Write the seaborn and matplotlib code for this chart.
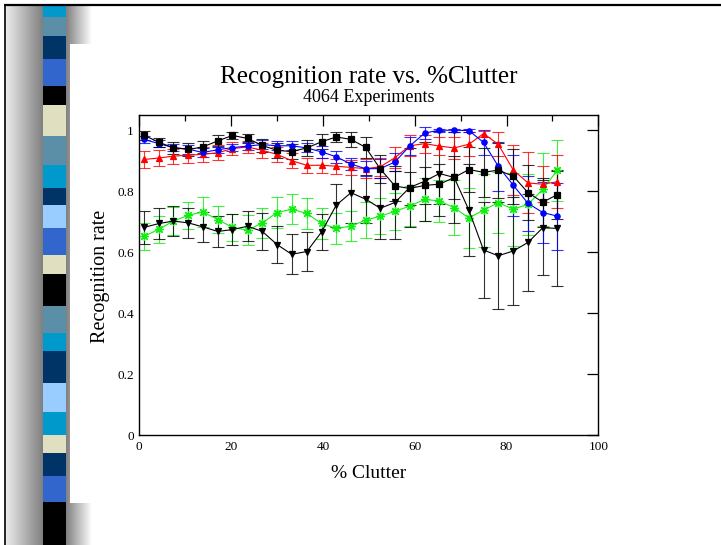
import numpy as np
import pandas as pd
import matplotlib
matplotlib.use("Agg")
import matplotlib.pyplot as plt
import seaborn as sns
from matplotlib.patches import Rectangle
from matplotlib.ticker import MultipleLocator, FuncFormatter

# ---------------- data ----------------
clutter = [1.0, 4.3, 7.4, 10.7, 13.8, 17.1, 20.3, 23.6, 26.8, 30.0, 33.2, 36.5,
           39.7, 42.9, 46.1, 49.3, 52.5, 55.7, 58.9, 62.2, 65.4, 68.6, 71.8,
           75.0, 78.2, 81.5, 84.7, 87.9, 91.1]

sq_y = [0.984, 0.960, 0.943, 0.937, 0.945, 0.965, 0.983, 0.973, 0.950, 0.934,
        0.930, 0.942, 0.962, 0.978, 0.970, 0.944, 0.873, 0.817, 0.809, 0.819,
        0.823, 0.845, 0.871, 0.862, 0.869, 0.849, 0.795, 0.764, 0.789]
sq_e = [0.015, 0.015, 0.02, 0.02, 0.02, 0.02, 0.012, 0.015, 0.02, 0.025,
        0.025, 0.025, 0.025, 0.015, 0.025, 0.035, 0.045, 0.05, 0.055, 0.06,
        0.065, 0.07, 0.075, 0.08, 0.09, 0.09, 0.09, 0.08, 0.08]

blue_y = [0.970, 0.956, 0.943, 0.938, 0.927, 0.936, 0.943, 0.948, 0.953,
          0.949, 0.949, 0.942, 0.929, 0.913, 0.889, 0.874, 0.874, 0.896,
          0.948, 0.991, 1.000, 1.000, 0.999, 0.960, 0.882, 0.819, 0.760,
          0.730, 0.718]
blue_e = [0.012, 0.012, 0.012, 0.015, 0.015, 0.012, 0.012, 0.012, 0.015,
          0.015, 0.015, 0.015, 0.02, 0.02, 0.02, 0.025, 0.03, 0.03, 0.03,
          0.02, 0.005, 0.005, 0.005, 0.04, 0.08, 0.1, 0.09, 0.1, 0.11]

red_y = [0.904, 0.909, 0.915, 0.918, 0.921, 0.926, 0.940, 0.945, 0.934,
         0.921, 0.900, 0.885, 0.885, 0.882, 0.878, 0.874, 0.880, 0.910,
         0.949, 0.956, 0.948, 0.942, 0.954, 0.989, 0.954, 0.869, 0.827,
         0.823, 0.831]
red_e = [0.028, 0.025, 0.025, 0.025, 0.025, 0.025, 0.02, 0.02, 0.025, 0.025,
         0.025, 0.025, 0.025, 0.025, 0.025, 0.03, 0.03, 0.035, 0.035, 0.03,
         0.03, 0.035, 0.04, 0.01, 0.04, 0.083, 0.1, 0.06, 0.087]

tri_y = [0.681, 0.694, 0.702, 0.696, 0.683, 0.668, 0.674, 0.685, 0.668,
         0.625, 0.593, 0.602, 0.666, 0.754, 0.795, 0.774, 0.744, 0.763,
         0.812, 0.833, 0.858, 0.845, 0.738, 0.607, 0.588, 0.604, 0.632,
         0.680, 0.678]
tri_e = [0.055, 0.05, 0.05, 0.05, 0.05, 0.05, 0.05, 0.05, 0.06, 0.06, 0.065,
         0.065, 0.06, 0.07, 0.1, 0.08, 0.1, 0.12, 0.13, 0.13, 0.14, 0.15,
         0.15, 0.157, 0.175, 0.176, 0.158, 0.156, 0.188]

grn_y = [0.652, 0.675, 0.702, 0.721, 0.732, 0.707, 0.681, 0.672, 0.696,
         0.730, 0.741, 0.727, 0.694, 0.678, 0.685, 0.705, 0.718, 0.734,
         0.751, 0.773, 0.768, 0.746, 0.712, 0.738, 0.762, 0.741, 0.757,
         0.806, 0.869]
grn_e = [0.045, 0.045, 0.045, 0.045, 0.05, 0.045, 0.045, 0.05, 0.05, 0.05,
         0.05, 0.05, 0.05, 0.05, 0.05, 0.06, 0.06, 0.06, 0.065, 0.07, 0.07,
         0.09, 0.1, 0.12, 0.1, 0.12, 0.1, 0.12, 0.1]

x_ticks = [0, 20, 40, 60, 80, 100]
y_ticks = [0, 0.2, 0.4, 0.6, 0.8, 1.0]

# ---------------- figure ----------------
sns.set_theme(style="white")
plt.rcParams["font.family"] = ["Liberation Serif", "DejaVu Serif"]

W, H = 721, 545
fig = plt.figure(figsize=(W / 100, H / 100), dpi=100)
fig.patch.set_facecolor("white")

# slide decoration (background axes in pixel coordinates)
bg = fig.add_axes([0, 0, 1, 1], zorder=-5)
bg.set_xlim(0, W)
bg.set_ylim(H, 0)
bg.axis("off")

g1 = np.linspace(0.93, 0.5, 128)[None, :]
bg.imshow(g1, cmap="gray", vmin=0, vmax=1, extent=[5, 43, H, 5], aspect="auto", zorder=1)
g2 = np.linspace(0.5, 1.0, 128)[None, :]
bg.imshow(g2, cmap="gray", vmin=0, vmax=1, extent=[66, 92, H, 5], aspect="auto", zorder=1)
bg.add_patch(Rectangle((70, 44), W - 70, 459, facecolor="white", edgecolor="none", zorder=2))

blocks = [(5, 17, "#0099cc"), (17, 36, "#5b8fa8"), (36, 59, "#003366"),
          (59, 86, "#3366cc"), (86, 105, "#000000"), (105, 136, "#e0e0c0"),
          (136, 165, "#5b8fa8"), (165, 188, "#0099cc"), (188, 205, "#003366"),
          (205, 228, "#99ccff"), (228, 255, "#3366cc"), (255, 274, "#e0e0c0"),
          (274, 306, "#000000"), (306, 333, "#5b8fa8"), (333, 351, "#0099cc"),
          (351, 383, "#003366"), (383, 412, "#99ccff"), (412, 435, "#0099cc"),
          (435, 453, "#e0e0c0"), (453, 476, "#003366"), (476, 502, "#3366cc"),
          (502, 545, "#000000")]
for y0, y1, c in blocks:
    bg.add_patch(Rectangle((43, y0), 23, y1 - y0, facecolor=c, edgecolor="none", zorder=3))

bg.plot([4, W], [4.5, 4.5], color="black", lw=1.6, zorder=4, solid_capstyle="butt")
bg.plot([4.5, 4.5], [4, H], color="black", lw=1.2, zorder=4, solid_capstyle="butt")

# ---------------- main chart ----------------
ax = fig.add_axes([139.3 / W, 1 - 435 / H, 459 / W, 320 / H])
ax.set_facecolor("white")

series = [
    ("green", grn_y, grn_e, "#11ee11", (8, 2, 0), 6.5),
    ("tri", tri_y, tri_e, "black", "v", 4.8),
    ("red", red_y, red_e, "#ff0000", "^", 5),
    ("blue", blue_y, blue_e, "#0000ff", "o", 3.8),
    ("square", sq_y, sq_e, "black", "s", 4.6),
]

for name, ys, es, col, mk, ms in series:
    ax.errorbar(clutter, ys, yerr=es, fmt="none", ecolor=col, elinewidth=0.8,
                capsize=4, capthick=0.8, alpha=0.8, zorder=2)
for name, ys, es, col, mk, ms in series:
    df = pd.DataFrame({"x": clutter, "y": ys})
    sns.lineplot(data=df, x="x", y="y", ax=ax, color=col, marker=mk,
                 markersize=ms, markeredgecolor=col, markerfacecolor=col,
                 markeredgewidth=0.9, linewidth=0.8, sort=False, zorder=3)

ax.set_xlim(0, 100)
ax.set_ylim(0, 1.05)
ax.set_xticks(x_ticks)
ax.set_yticks(y_ticks)
ax.xaxis.set_minor_locator(MultipleLocator(10))
ax.yaxis.set_major_formatter(FuncFormatter(lambda v, p: f"{v:g}"))
ax.tick_params(which="major", direction="in", top=True, right=True,
               length=8, width=0.9, color="black", labelsize=9.5, pad=4,
               labelcolor="black")
ax.tick_params(which="minor", direction="in", top=True, right=False,
               length=4, width=0.9, color="black")
ax.tick_params(axis="y", which="minor", left=False, right=False)
for s in ax.spines.values():
    s.set_color("black")
    s.set_linewidth(1.0)
    s.set_visible(True)

ax.set_xlabel("")
ax.set_ylabel("")

fig.text(369 / W, 1 - 83 / H, "Recognition rate vs. %Clutter", ha="center",
         va="baseline", fontsize=18, color="black")
fig.text(369 / W, 1 - 101.5 / H, "4064 Experiments", ha="center",
         va="baseline", fontsize=13, color="black")
fig.text(369 / W, 1 - 473 / H, "% Clutter", ha="center", va="center",
         fontsize=14, color="black")
fig.text(101 / W, 1 - 276 / H, "Recognition rate", ha="center", va="center",
         rotation=90, fontsize=14.5, color="black")

fig.savefig("out.png", dpi=100, facecolor="white")
